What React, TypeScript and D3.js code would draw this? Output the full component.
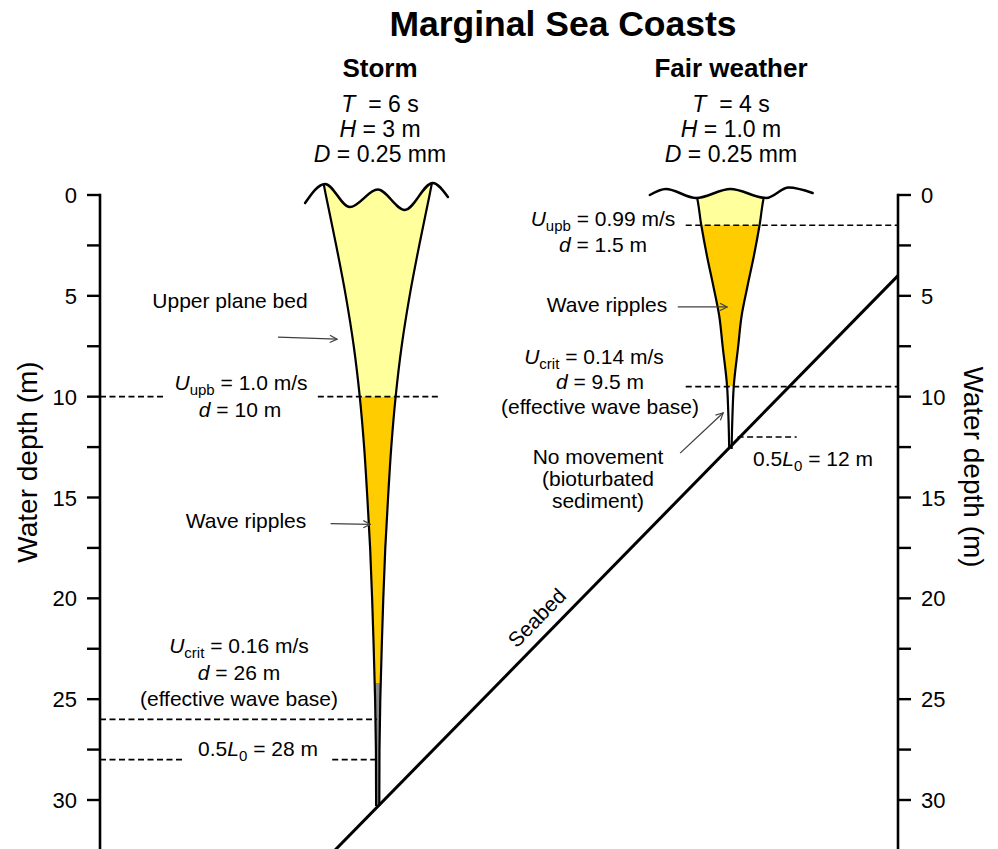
import React from "react";
import * as d3 from "d3";

const W = 998;
const H = 849;
const FONT = "Arial, 'Liberation Sans', Helvetica, sans-serif";

// Depth axis ticks (m)
const majorTicks = [0, 5, 10, 15, 20, 25, 30];
const minorTicks = [2.5, 7.5, 12.5, 17.5, 22.5, 27.5];

// Storm wave column: orbital width (distance units) against depth (m)
const stormDepths = [-0.6, 0, 2.5, 5, 7.5, 10, 12.5, 15, 17.5, 20, 22.5, 25, 27.5, 30.3];
const stormWidths = [13.6, 13.0, 10.4, 8.0, 6.0, 4.5, 3.4, 2.6, 1.9, 1.4, 1.0, 0.65, 0.45, 0.4];
const stormCenter = 34.8;
const stormUpbDepth = 10;
const stormRippleEnd = 24.2;
const stormWaveX = [25.7, 28.2, 31.3, 34.8, 38.2, 41.7, 43.6];
const stormWaveDepth = [0.4, -0.55, 0.6, -0.27, 0.74, -0.6, 0.1];

// Fair-weather wave column
const fairDepths = [-0.3, 0, 1.5, 3, 4.5, 6, 7.5, 9.5, 11, 12.6];
const fairWidths = [8.9, 8.5, 7.3, 5.9, 4.3, 2.8, 1.95, 0.83, 0.5, 0.3];
const fairCenter = 79.0;
const fairUpbDepth = 1.5;
const fairCritDepth = 9.5;
const fairWaveX = [68.9, 70.9, 74.7, 79.0, 83.5, 86.3, 89.3];
const fairWaveDepth = [0.0, -0.3, 0.15, -0.3, 0.15, -0.37, -0.1];

// Seabed profile: distance units vs depth (m)
const seabedX = [20, 100];
const seabedDepth = [36.3, 4];

// Dashed reference levels: depth and horizontal extents
const stormLevels = [
  { depth: 10, spans: [[0, 8.1], [27.3, 42.6]] },
  { depth: 26, spans: [[0, 34.7]] },
  { depth: 28, spans: [[0, 10.7], [29.1, 34.7]] },
];
const fairLevels = [
  { depth: 1.5, spans: [[73.4, 100]] },
  { depth: 9.5, spans: [[73.4, 100]] },
  { depth: 12, spans: [[79.9, 87.3]] },
];

// Annotation arrows: [x, depth] from -> to
const arrows = [
  [[22.3, 7.05], [29.7, 7.15]],
  [[28.9, 16.3], [33.9, 16.33]],
  [[72.4, 5.55], [78.6, 5.55]],
  [[72.7, 12.8], [78.1, 10.8]],
];

const x = d3.scaleLinear().domain([0, 100]).range([100, 898]);
const y = d3.scaleLinear().domain([0, 30]).range([195, 800]);

const YELLOW = "#FFFF9C";
const ORANGE = "#FFCC00";

type P = { d: number; w: number };

function Column(props: {
  id: string;
  depths: number[];
  widths: number[];
  center: number;
  waveX: number[];
  waveDepth: number[];
  upper: number;
  ripple: number;
  stemFill: string;
}) {
  const { id, depths, widths, center, waveX, waveDepth, upper, ripple, stemFill } = props;
  const pts: P[] = depths.map((d, i) => ({ d, w: widths[i] }));
  const area = d3
    .area<P>()
    .y((p) => y(p.d))
    .x0((p) => x(center - p.w / 2))
    .x1((p) => x(center + p.w / 2))
    .curve(d3.curveMonotoneY);
  const leftEdge = d3
    .line<P>()
    .x((p) => x(center - p.w / 2))
    .y((p) => y(p.d))
    .curve(d3.curveMonotoneY);
  const rightEdge = d3
    .line<P>()
    .x((p) => x(center + p.w / 2))
    .y((p) => y(p.d))
    .curve(d3.curveMonotoneY);
  const wave: [number, number][] = waveX.map((v, i) => [v, waveDepth[i]]);
  const waveLine = d3
    .line<[number, number]>()
    .x((p) => x(p[0]))
    .y((p) => y(p[1]))
    .curve(d3.curveMonotoneX);
  const waveArea = d3
    .area<[number, number]>()
    .x((p) => x(p[0]))
    .y0((p) => y(p[1]))
    .y1(y(40))
    .curve(d3.curveMonotoneX);
  const top = y(-3);
  const bottom = y(40);
  const bands = [
    { key: "upper", y0: top, y1: y(upper), fill: YELLOW },
    { key: "ripple", y0: y(upper), y1: y(ripple), fill: ORANGE },
    { key: "stem", y0: y(ripple), y1: bottom, fill: stemFill },
  ];
  return (
    <g>
      <defs>
        <clipPath id={`wave-${id}`}>
          <path d={waveArea(wave) || ""} />
        </clipPath>
        {bands.map((b) => (
          <clipPath id={`band-${id}-${b.key}`} key={b.key}>
            <rect x={0} y={b.y0} width={W} height={b.y1 - b.y0} />
          </clipPath>
        ))}
      </defs>
      <g clipPath={`url(#wave-${id})`}>
        {bands.map((b) => (
          <g key={b.key} clipPath={`url(#band-${id}-${b.key})`}>
            <path d={area(pts) || ""} fill={b.fill} />
          </g>
        ))}
      </g>
      <g clipPath={`url(#wave-${id})`}>
        <path d={leftEdge(pts) || ""} fill="none" stroke="#000" strokeWidth={2.2} />
        <path d={rightEdge(pts) || ""} fill="none" stroke="#000" strokeWidth={2.2} />
      </g>
      <path d={waveLine(wave) || ""} fill="none" stroke="#000" strokeWidth={2.5} strokeLinecap="round" />
    </g>
  );
}

function Levels({ levels }: { levels: { depth: number; spans: number[][] }[] }) {
  return (
    <g>
      {levels.map((l) =>
        l.spans.map((s, i) => (
          <line
            key={`${l.depth}-${i}`}
            x1={x(s[0])}
            x2={x(s[1])}
            y1={y(l.depth)}
            y2={y(l.depth)}
            stroke="#000"
            strokeWidth={1.7}
            strokeDasharray="6,3.5"
          />
        ))
      )}
    </g>
  );
}

function Sub({ main, sub, rest }: { main: string; sub: string; rest: string }) {
  return (
    <>
      <tspan fontStyle="italic">{main}</tspan>
      <tspan fontSize={15} dy={5}>
        {sub}
      </tspan>
      <tspan dy={-5}>{rest}</tspan>
    </>
  );
}

function HalfL({ value }: { value: string }) {
  return (
    <>
      <tspan>{"0.5"}</tspan>
      <tspan fontStyle="italic">L</tspan>
      <tspan fontSize={15} dy={5}>
        0
      </tspan>
      <tspan dy={-5}>{` = ${value}`}</tspan>
    </>
  );
}

function Axis({ side }: { side: "left" | "right" }) {
  const ax = side === "left" ? x(0) : x(100);
  const dir = side === "left" ? -1 : 1;
  const tickLen = 13;
  const all = [...majorTicks, ...minorTicks];
  return (
    <g>
      <line x1={ax} x2={ax} y1={y(0) - 1.2} y2={H} stroke="#000" strokeWidth={2.6} />
      {all.map((t) => (
        <line
          key={t}
          x1={ax}
          x2={ax + dir * tickLen}
          y1={y(t)}
          y2={y(t)}
          stroke="#000"
          strokeWidth={2.4}
        />
      ))}
      {majorTicks.map((t) => (
        <text
          key={t}
          x={ax + dir * 23}
          y={y(t) + 8}
          textAnchor={side === "left" ? "end" : "start"}
          fontSize={22}
        >
          {t}
        </text>
      ))}
    </g>
  );
}

export default function App() {
  const seabed = d3
    .line<number>()
    .x((v) => x(v))
    .y((_, i) => y(seabedDepth[i]));
  return (
    <svg
      width={W}
      height={H}
      viewBox={`0 0 ${W} ${H}`}
      style={{ position: "absolute", left: 0, top: 0, background: "#fff" }}
      fontFamily={FONT}
    >
      <defs>
        <marker
          id="open-arrow"
          viewBox="0 0 10 10"
          refX={9}
          refY={5}
          markerWidth={9}
          markerHeight={9}
          markerUnits="userSpaceOnUse"
          orient="auto"
        >
          <path d="M1,1 L9,5 L1,9" fill="none" stroke="#404040" strokeWidth={1.3} />
        </marker>
      </defs>
      <rect width={W} height={H} fill="#fff" />

      <text x={563} y={36} textAnchor="middle" fontSize={35.5} fontWeight="bold">
        Marginal Sea Coasts
      </text>

      {/* condition headers */}
      <text x={380} y={77} textAnchor="middle" fontSize={26} fontWeight="bold">
        Storm
      </text>
      <text x={731} y={77} textAnchor="middle" fontSize={26} fontWeight="bold">
        Fair weather
      </text>
      <g fontSize={23} textAnchor="middle">
        <text x={380} y={112} xmlSpace="preserve">
          <tspan fontStyle="italic">T</tspan>
          {"  = 6 s"}
        </text>
        <text x={380} y={137}>
          <tspan fontStyle="italic">H</tspan>
          {" = 3 m"}
        </text>
        <text x={380} y={162}>
          <tspan fontStyle="italic">D</tspan>
          {" = 0.25 mm"}
        </text>
        <text x={731} y={112} xmlSpace="preserve">
          <tspan fontStyle="italic">T</tspan>
          {"  = 4 s"}
        </text>
        <text x={731} y={137}>
          <tspan fontStyle="italic">H</tspan>
          {" = 1.0 m"}
        </text>
        <text x={731} y={162}>
          <tspan fontStyle="italic">D</tspan>
          {" = 0.25 mm"}
        </text>
      </g>

      <Column
        id="storm"
        depths={stormDepths}
        widths={stormWidths}
        center={stormCenter}
        waveX={stormWaveX}
        waveDepth={stormWaveDepth}
        upper={stormUpbDepth}
        ripple={stormRippleEnd}
        stemFill="#8c8c8c"
      />
      <Column
        id="fair"
        depths={fairDepths}
        widths={fairWidths}
        center={fairCenter}
        waveX={fairWaveX}
        waveDepth={fairWaveDepth}
        upper={fairUpbDepth}
        ripple={fairCritDepth}
        stemFill="#ffffff"
      />

      <Levels levels={stormLevels} />
      <Levels levels={fairLevels} />

      <path d={seabed(seabedX) || ""} stroke="#000" strokeWidth={3} fill="none" />
      <text
        transform={`translate(537,618) rotate(-45.6)`}
        y={7}
        textAnchor="middle"
        fontSize={21}
      >
        Seabed
      </text>

      {arrows.map((a, i) => (
        <line
          key={i}
          x1={x(a[0][0])}
          y1={y(a[0][1])}
          x2={x(a[1][0])}
          y2={y(a[1][1])}
          stroke="#404040"
          strokeWidth={1.3}
          markerEnd="url(#open-arrow)"
        />
      ))}

      <Axis side="left" />
      <Axis side="right" />

      <text transform="translate(37,462) rotate(-90)" textAnchor="middle" fontSize={28}>
        Water depth (m)
      </text>
      <text transform="translate(964,467) rotate(90)" textAnchor="middle" fontSize={28}>
        Water depth (m)
      </text>

      {/* storm annotations */}
      <g fontSize={21} textAnchor="middle">
        <text x={230} y={308}>Upper plane bed</text>
        <text x={241} y={390}>
          <Sub main="U" sub="upb" rest=" = 1.0 m/s" />
        </text>
        <text x={240} y={417}>
          <tspan fontStyle="italic">d</tspan>
          {" = 10 m"}
        </text>
        <text x={246} y={528}>Wave ripples</text>
        <text x={239} y={653}>
          <Sub main="U" sub="crit" rest=" = 0.16 m/s" />
        </text>
        <text x={239} y={680}>
          <tspan fontStyle="italic">d</tspan>
          {" = 26 m"}
        </text>
        <text x={239} y={706}>(effective wave base)</text>
        <text x={258} y={756}>
          <HalfL value="28 m" />
        </text>
      </g>

      {/* fair-weather annotations */}
      <g fontSize={21} textAnchor="middle">
        <text x={603} y={226}>
          <Sub main="U" sub="upb" rest=" = 0.99 m/s" />
        </text>
        <text x={603} y={252}>
          <tspan fontStyle="italic">d</tspan>
          {" = 1.5 m"}
        </text>
        <text x={607} y={312}>Wave ripples</text>
        <text x={594} y={364}>
          <Sub main="U" sub="crit" rest=" = 0.14 m/s" />
        </text>
        <text x={600} y={389}>
          <tspan fontStyle="italic">d</tspan>
          {" = 9.5 m"}
        </text>
        <text x={600} y={414}>(effective wave base)</text>
        <text x={598} y={464}>No movement</text>
        <text x={598} y={486}>(bioturbated</text>
        <text x={598} y={508}>sediment)</text>
        <text x={813} y={466}>
          <HalfL value="12 m" />
        </text>
      </g>
    </svg>
  );
}
